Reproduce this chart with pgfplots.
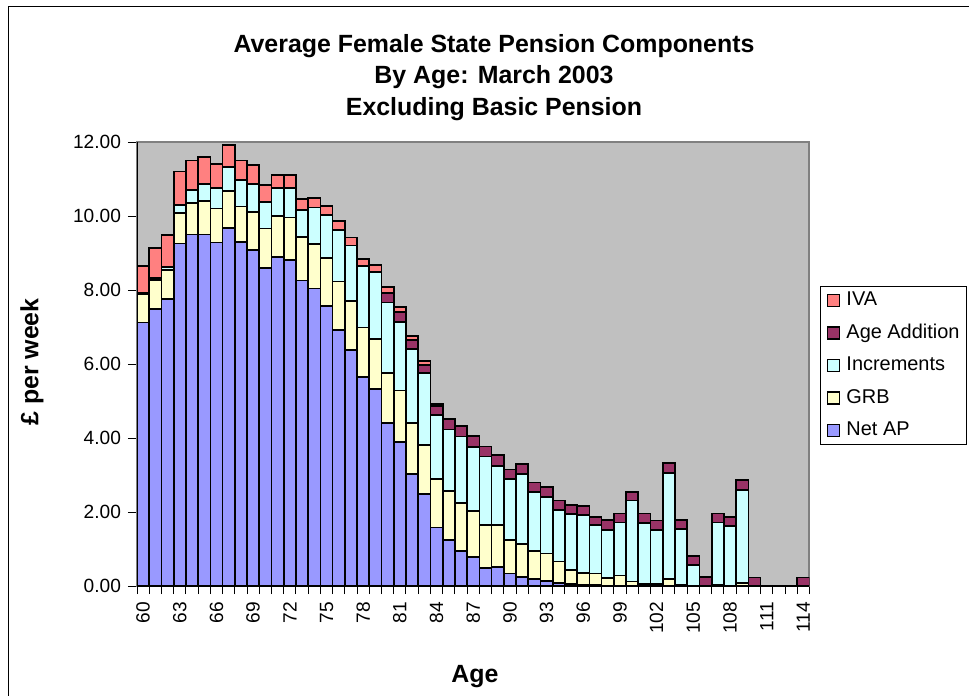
\documentclass[border=0pt]{standalone}
\usepackage{pgfplots}
\pgfplotsset{compat=1.18}
\usepackage{pgfplotstable}
\usepackage{fontspec}
\setmainfont{Liberation Sans}

\definecolor{netap}{HTML}{9999FF}
\definecolor{grb}{HTML}{FFFFCC}
\definecolor{incr}{HTML}{CCFFFF}
\definecolor{aa}{HTML}{993366}
\definecolor{iva}{HTML}{FF8080}
\definecolor{bgc}{HTML}{C0C0C0}
\definecolor{framegray}{HTML}{808080}

\pgfplotstableread{
age netap grb incr aa iva
60 7.12 0.77 0.02 0 0.74
61 7.49 0.78 0.06 0 0.81
62 7.76 0.78 0.09 0 0.86
63 9.26 0.83 0.20 0 0.91
64 9.50 0.86 0.34 0 0.80
65 9.50 0.91 0.46 0 0.73
66 9.28 0.92 0.56 0 0.65
67 9.68 0.99 0.65 0 0.59
68 9.29 0.97 0.71 0 0.53
69 9.08 1.03 0.75 0 0.51
70 8.60 1.06 0.72 0 0.46
71 8.89 1.11 0.76 0 0.35
72 8.81 1.15 0.80 0 0.35
73 8.26 1.18 0.73 0 0.29
74 8.04 1.20 0.99 0 0.25
75 7.57 1.29 1.17 0 0.24
76 6.92 1.31 1.39 0 0.24
77 6.38 1.33 1.49 0 0.22
78 5.65 1.34 1.66 0 0.18
79 5.33 1.35 1.80 0 0.20
80 4.41 1.34 1.91 0.25 0.18
81 3.90 1.38 1.85 0.28 0.14
82 3.02 1.38 2.01 0.24 0.11
83 2.48 1.33 1.94 0.22 0.11
84 1.58 1.32 1.72 0.24 0.06
85 1.24 1.33 1.66 0.27 0.03
86 0.95 1.30 1.79 0.27 0.02
87 0.78 1.24 1.74 0.28 0.01
88 0.48 1.16 1.86 0.27 0
89 0.52 1.12 1.61 0.29 0
90 0.34 0.90 1.66 0.25 0
91 0.25 0.88 1.89 0.28 0
92 0.18 0.77 1.60 0.25 0
93 0.14 0.74 1.53 0.26 0
94 0.09 0.57 1.39 0.26 0
95 0.05 0.38 1.52 0.24 0
96 0.03 0.33 1.56 0.25 0
97 0.02 0.32 1.30 0.23 0
98 0.01 0.20 1.30 0.27 0
99 0 0.28 1.44 0.24 0
100 0 0.12 2.19 0.24 0
101 0 0.06 1.65 0.25 0
102 0 0.05 1.46 0.26 0
103 0 0.19 2.87 0.27 0
104 0 0.02 1.52 0.24 0
105 0 0 0.57 0.24 0
106 0 0 0 0.25 0
107 0 0.03 1.69 0.24 0
108 0 0 1.62 0.25 0
109 0 0.08 2.51 0.27 0
110 0 0 0 0.23 0
111 0 0 0 0 0
112 0 0 0 0 0
113 0 0 0 0 0
114 0 0 0 0.23 0
}\datatable

\begin{document}
\begin{tikzpicture}
\begin{axis}[
  at={(68.5bp,-293bp)}, anchor=south west,
  scale only axis, width=336.25bp, height=222bp,
  ybar stacked, bar width=1,
  xmin=59.5, xmax=114.5, ymin=0, ymax=12,
  axis background/.style={fill=bgc},
  axis line style={draw=framegray, line width=1bp},
  xtick={60,63,...,114},
  minor xtick={59.5,60.5,...,114.5},
  ytick={0,2,...,12},
  tick align=outside,
  xtick pos=bottom, ytick pos=left,
  major tick length=4.5bp, minor tick length=4bp,
  every major x tick/.append style={draw=none},
  every minor x tick/.append style={black, line width=0.5bp},
  every major y tick/.append style={black, line width=0.5bp},
  /pgf/number format/assume math mode=true,
  tick label style={font=\fontsize{9.6}{11}\selectfont},
  yticklabel style={/pgf/number format/.cd, fixed, fixed zerofill, precision=2},
  xticklabel style={rotate=90, anchor=east, /pgf/number format/1000 sep={}},
  every axis plot post/.append style={
    draw=black, line width=0.85bp,
    legend image code/.code={\draw[#1, line width=0.7bp] (0bp,-3bp) rectangle (6bp,3bp);}
  },
  reverse legend,
  legend style={at={(1.0156,0.6757)}, anchor=north west, draw=black, line width=0.5bp, fill=white,
    font=\fontsize{10}{12}\selectfont, inner xsep=3.3bp, inner ysep=2.4bp,
    row sep=6.95bp, column sep=3bp,
    nodes={inner sep=0pt, text height=7.2bp, text depth=2.1bp},
    cells={anchor=west}},
]
\addplot[fill=netap] table[x=age,y=netap]{\datatable};
\addplot[fill=grb] table[x=age,y=grb]{\datatable};
\addplot[fill=incr] table[x=age,y=incr]{\datatable};
\addplot[fill=aa] table[x=age,y=aa]{\datatable};
\addplot[fill=iva] table[x=age,y=iva]{\datatable};
\legend{Net AP, GRB, Increments, Age Addition, IVA}
\draw[black, line width=0.7bp] (rel axis cs:0,0) -- (rel axis cs:0,1);
\draw[black, line width=0.7bp] (rel axis cs:0,0) -- (rel axis cs:1,0);
\end{axis}
\node[anchor=base, font=\bfseries\fontsize{12.5}{15}\selectfont] at (247bp,-26bp) {Average Female State Pension Components};
\node[anchor=base, font=\bfseries\fontsize{12.5}{15}\selectfont] at (247bp,-41.5bp) {By Age: March 2003};
\node[anchor=base, font=\bfseries\fontsize{12.5}{15}\selectfont] at (247bp,-57.5bp) {Excluding Basic Pension};
\node[rotate=90, font=\bfseries\fontsize{12.5}{15}\selectfont] at (16bp,-181bp) {£ per week};
\node[anchor=base, font=\bfseries\fontsize{12.5}{15}\selectfont] at (237.5bp,-341bp) {Age};
\draw[black, line width=0.5bp] (4bp,-3bp) rectangle (520bp,-380bp);
\pgfresetboundingbox
\useasboundingbox (0bp,0bp) rectangle (484.5bp,-348bp);
\end{tikzpicture}
\end{document}
